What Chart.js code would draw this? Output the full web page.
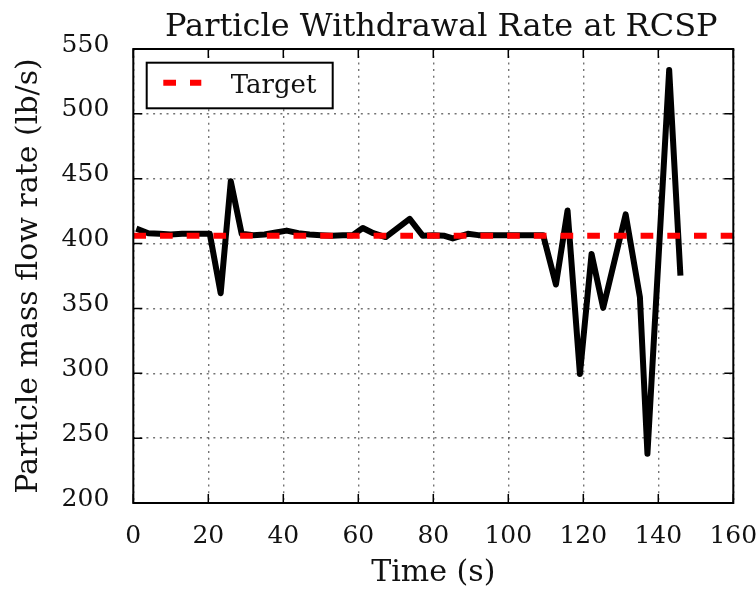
<!DOCTYPE html>
<html>
<head>
<meta charset="utf-8">
<script src="https://cdn.jsdelivr.net/npm/chart.js@4/dist/chart.umd.min.js"></script>
<style>
  html, body { margin: 0; padding: 0; background: #fff; }
  #wrap { width: 756px; height: 590px; }
</style>
</head>
<body>
<div id="wrap"><canvas id="chart" width="756" height="590"></canvas></div>
<script>
// Measured particle withdrawal rate (lb/s) against time (s)
const timeS = [0.8, 4, 7, 10, 13, 16.5, 20.4, 23.3, 26, 28.9, 32, 35, 38, 40.9, 44, 47, 50, 53, 55.9, 58.5,
  61.2, 64, 67.3, 73.7, 77.2, 80, 83, 85.2, 89.2, 92, 95, 98, 101, 104, 107, 109.3,
  112.7, 115.8, 119.1, 122.2, 125.3, 131.3, 135.1, 137.1, 142.9, 145.9];
const flowRate = [411.5, 408, 407.5, 407, 407.5, 407.5, 407.5, 361.7, 448, 407.5, 406.5, 407, 408.5, 410, 408, 407, 406.5, 406, 406.5, 406.5,
  412, 408, 405, 419, 406, 406.5, 406, 404, 407.5, 406.5, 406.5, 406.5, 406.5, 406.5, 406.5, 406.5,
  368.4, 425.5, 299.5, 392, 350.4, 422.5, 358.6, 238, 533.8, 375.3];

// Target withdrawal rate
const targetTime = [0, 160];
const targetRate = [406, 406];

// Axis tick values
const xTickValues = [0, 20, 40, 60, 80, 100, 120, 140, 160];
const yTickValues = [200, 250, 300, 350, 400, 450, 500, 550];

const FONT = '"DejaVu Serif", "Liberation Serif", serif';
const INK = '#111';

const toPoints = (xs, ys) => xs.map((x, i) => ({ x, y: ys[i] }));

// Nudge the title block so the heading sits slightly right of the plot centre
const titleShift = {
  id: 'titleShift',
  afterLayout(chart) {
    const t = chart.titleBlock;
    if (t) { t.left += 8; t.right += 8; }
  }
};

// Inward tick marks on all four sides plus the closed axes frame
const frameTicks = {
  id: 'frameTicks',
  afterDatasetsDraw(chart) {
    const { ctx, chartArea: a, scales: { x, y } } = chart;
    const len = 9;
    ctx.save();
    ctx.strokeStyle = '#000';
    ctx.lineWidth = 1.5;
    ctx.beginPath();
    x.ticks.forEach(t => {
      const px = x.getPixelForValue(t.value);
      ctx.moveTo(px, a.bottom); ctx.lineTo(px, a.bottom - len);
      ctx.moveTo(px, a.top); ctx.lineTo(px, a.top + len);
    });
    y.ticks.forEach(t => {
      const py = y.getPixelForValue(t.value);
      ctx.moveTo(a.left, py); ctx.lineTo(a.left + len, py);
      ctx.moveTo(a.right, py); ctx.lineTo(a.right - len, py);
    });
    ctx.stroke();
    ctx.lineWidth = 2;
    ctx.strokeRect(a.left, a.top, a.right - a.left, a.bottom - a.top);
    ctx.restore();
  }
};

// Framed legend in the upper-left corner of the plot, for the labelled series
const legendBox = {
  id: 'legendBox',
  afterDatasetsDraw(chart) {
    const { ctx, chartArea: a } = chart;
    const ds = chart.data.datasets.find(d => d.label);
    const x0 = a.left + 13.4, y0 = a.top + 13.7, w = 186, h = 45.6;
    ctx.save();
    ctx.fillStyle = '#fff';
    ctx.fillRect(x0, y0, w, h);
    ctx.lineWidth = 2;
    ctx.strokeStyle = '#000';
    ctx.strokeRect(x0, y0, w, h);
    ctx.beginPath();
    ctx.setLineDash(ds.borderDash);
    ctx.lineWidth = ds.borderWidth;
    ctx.strokeStyle = ds.borderColor;
    ctx.lineCap = 'butt';
    ctx.moveTo(x0 + 16.6, y0 + 20);
    ctx.lineTo(x0 + 54.6, y0 + 20);
    ctx.stroke();
    ctx.setLineDash([]);
    ctx.font = '26px ' + FONT;
    ctx.fillStyle = INK;
    ctx.textBaseline = 'alphabetic';
    ctx.textAlign = 'left';
    ctx.fillText(ds.label, x0 + 84, y0 + 30);
    ctx.restore();
  }
};

new Chart(document.getElementById('chart'), {
  type: 'line',
  data: {
    datasets: [
      {
        label: 'Target',
        data: toPoints(targetTime, targetRate),
        borderColor: '#ff0000',
        borderWidth: 6,
        borderDash: [12.7, 14],
        borderCapStyle: 'butt',
        pointRadius: 0,
        tension: 0,
        fill: false
      },
      {
        label: '',
        data: toPoints(timeS, flowRate),
        borderColor: '#000000',
        borderWidth: 6,
        borderJoinStyle: 'round',
        borderCapStyle: 'butt',
        pointRadius: 0,
        tension: 0,
        fill: false
      }
    ]
  },
  options: {
    responsive: false,
    animation: false,
    devicePixelRatio: 1,
    layout: { padding: 0 },
    plugins: {
      legend: { display: false },
      tooltip: { enabled: false },
      title: {
        display: true,
        text: 'Particle Withdrawal Rate at RCSP',
        fullSize: false,
        color: INK,
        font: { family: FONT, size: 32, weight: 'normal', lineHeight: 1.2 },
        padding: { top: 8, bottom: 2.6 }
      }
    },
    scales: {
      x: {
        type: 'linear',
        min: xTickValues[0],
        max: xTickValues[xTickValues.length - 1],
        afterBuildTicks: s => { s.ticks = xTickValues.map(v => ({ value: v })); },
        ticks: { color: INK, font: { family: FONT, size: 25 }, padding: 18, maxRotation: 0, autoSkip: false },
        grid: { color: 'rgba(0,0,0,0.55)', lineWidth: 1.4, drawTicks: false },
        border: { display: false, dash: [2, 4.7] },
        title: {
          display: true, text: 'Time (s)', color: INK,
          font: { family: FONT, size: 30, lineHeight: 1 },
          padding: { top: 0, bottom: 1.4 }
        },
        afterFit: s => { s.height = 87; s.paddingRight = 22.7; }
      },
      y: {
        type: 'linear',
        min: yTickValues[0],
        max: yTickValues[yTickValues.length - 1],
        afterBuildTicks: s => { s.ticks = yTickValues.map(v => ({ value: v })); },
        ticks: { color: INK, font: { family: FONT, size: 25 }, padding: 24, labelOffset: -4 },
        grid: { color: 'rgba(0,0,0,0.55)', lineWidth: 1.4, drawTicks: false },
        border: { display: false, dash: [2, 4.7] },
        title: {
          display: true, text: 'Particle mass flow rate (lb/s)', color: INK,
          font: { family: FONT, size: 30, lineHeight: 1 },
          padding: { top: 14.2, bottom: 0 }
        },
        afterFit: s => { s.width = 133.3; }
      }
    }
  },
  plugins: [titleShift, frameTicks, legendBox]
});
</script>
</body>
</html>
